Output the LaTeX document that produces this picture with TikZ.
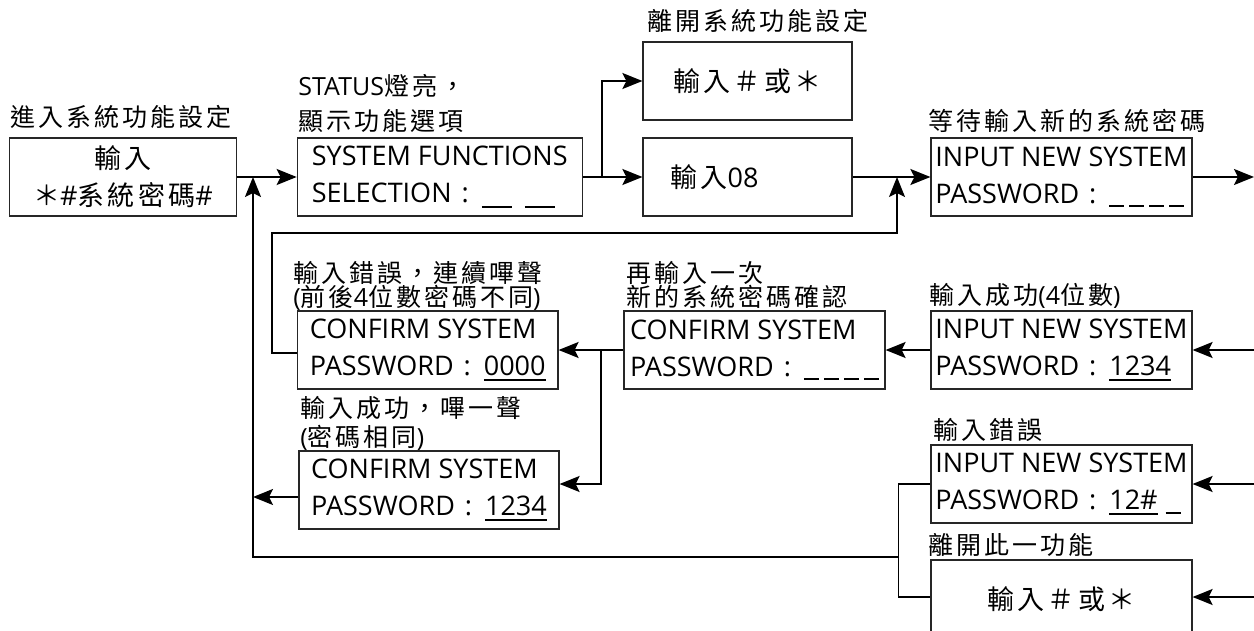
\documentclass[tikz,border=0pt]{standalone}
\usepackage{fontspec}
\setmainfont{Open Sans}
\newfontfamily\cjkfont[LetterSpace=12]{Noto Sans CJK TC}
\usetikzlibrary{arrows.meta}
\newcommand\zh[1]{{\cjkfont #1}}
\newcommand\pwsep{\hspace{5pt}:\hspace{6.5pt}}
\newcommand\blankone{\rule[-2pt]{7.5pt}{0.9pt}}
\newcommand\blankfour{\blankone\hspace{2.5pt}\blankone\hspace{2.5pt}\blankone\hspace{2.5pt}\blankone}
\newcommand\blanktwo{\rule[-2.5pt]{15pt}{0.8pt}\hspace{6.5pt}\rule[-2.5pt]{15pt}{0.8pt}}
\newcommand\uldigits[1]{\setbox0=\hbox{#1}\rlap{\rule[-2.5pt]{\wd0}{0.9pt}}\box0}

\begin{document}
\begin{tikzpicture}[x=0.5pt,y=-0.5pt,
    box/.style={draw=black!85,line width=0.6pt,minimum height=39pt,align=left,inner sep=0pt,font=\fontsize{13.5pt}{18.5pt}\selectfont},
    lab/.style={anchor=base west,inner sep=0pt,font=\fontsize{12.5pt}{14pt}\selectfont},
    arr/.style={line width=1pt,-{Stealth[length=10pt,width=8pt,inset=2pt]}},
    loopline/.style={line width=0.6pt}]
     \useasboundingbox (0,0) rectangle (1254,631);
     \node[box,align=center,minimum width=113.5pt] (enter) at (123,177) {\zh{輸入}\\\zh{＊}\#\zh{系統密碼}\#};
     \node[box,minimum width=142.5pt] (select) at (439.75,177) {SYSTEM FUNCTIONS\\SELECTION\pwsep\blanktwo};
     \node[box,align=center,minimum width=104.5pt] (quit) at (747.5,81) {\zh{輸入＃或＊}};
     \node[box,text width=77pt,inner xsep=13.75pt] (in08) at (747.5,177) {\zh{輸入}08};
     \node[box,minimum width=130.5pt] (newpw) at (1061.5,177) {INPUT NEW SYSTEM\\PASSWORD\pwsep\blankfour};
     \node[box,minimum width=130.25pt] (wrong) at (427.75,350) {CONFIRM SYSTEM\\PASSWORD\pwsep\uldigits{0000}};
     \node[box,minimum width=130.5pt] (confirm) at (754.5,350) {CONFIRM SYSTEM\\PASSWORD\pwsep\blankfour};
     \node[box,minimum width=130pt] (same) at (429,490) {CONFIRM SYSTEM\\PASSWORD\pwsep\uldigits{1234}};
     \node[box,minimum width=130.5pt] (newpwok) at (1061.5,350) {INPUT NEW SYSTEM\\PASSWORD\pwsep\uldigits{1234}};
     \node[box,minimum width=130.5pt] (badpw) at (1061.5,484) {INPUT NEW SYSTEM\\PASSWORD\pwsep\uldigits{12\#}\hspace{4pt}\blankone};
     \node[box,align=center,minimum width=130.5pt] (leave) at (1061.5,599) {\zh{輸入＃或＊}};
     \node[lab] (lab1) at (10,127) {\zh{進入系統功能設定}};
     \node[lab] (lab2a) at (298,96) {STATUS\zh{燈亮，}};
     \node[lab] (lab2b) at (298,131) {\zh{顯示功能選項}};
     \node[lab] (lab3) at (647,31) {\zh{離開系統功能設定}};
     \node[lab] (lab5) at (928,131) {\zh{等待輸入新的系統密碼}};
     \node[lab] (lab6a) at (293,282) {\zh{輸入錯誤，連續嗶聲}};
     \node[lab] (lab6b) at (293,306) {(\zh{前後}4\zh{位數密碼不同})};
     \node[lab] (lab7a) at (626,282) {\zh{再輸入一次}};
     \node[lab] (lab7b) at (626,306) {\zh{新的系統密碼確認}};
     \node[lab] (lab9) at (929,304) {\zh{輸入成功}(4\zh{位數})};
     \node[lab] (lab8a) at (300,417) {\zh{輸入成功，嗶一聲}};
     \node[lab] (lab8b) at (300,446) {(\zh{密碼相同})};
     \node[lab] (lab10) at (933,439) {\zh{輸入錯誤}};
     \node[lab] (lab11) at (928,554) {\zh{離開此一功能}};
     \coordinate (fork1) at (602,177);
     \coordinate (fork2) at (601,350);
     \coordinate (fbl) at (272,233);
     \coordinate (fbr) at (897,177);
     \coordinate (sameout) at (253,497);
     \coordinate (join) at (899,557);
     \coordinate (retx) at (253,557);
     \coordinate (upend) at (253,177);
     \coordinate (out1) at (1254,177);
     \coordinate (in2) at (1254,350);
     \coordinate (in3) at (1254,484);
     \coordinate (in4) at (1254,597);
     \draw [arr] (enter) -- (select);
     \draw [line width=1pt] (select) -- (fork1);
     \draw [arr] (fork1) |- (quit);
     \draw [arr] (fork1) -- (in08);
     \draw [arr] (in08) -- (newpw);
     \draw [arr] (newpw) -- (out1);
     \draw [arr,line width=0.7pt] ([yshift=-1.5pt]wrong.west) -| (fbl) -| (fbr);
     \draw [arr] (confirm) -- (wrong);
     \draw [arr] (fork2) |- ([yshift=3pt]same.east);
     \draw [arr] ([yshift=-3.5pt]same.west) -- (sameout);
     \draw [arr] (newpwok) -- (confirm);
     \draw [arr] (in2) -- (newpwok);
     \draw [arr] (in3) -- (badpw);
     \draw [arr] (in4) -- (in4 -| leave.east);
     \draw [loopline] (badpw.west) -- ++(-32,0) |- ([yshift=1pt]leave.west);
     \draw [arr] (join) -- (retx) -- (upend);
\end{tikzpicture}
\end{document}
